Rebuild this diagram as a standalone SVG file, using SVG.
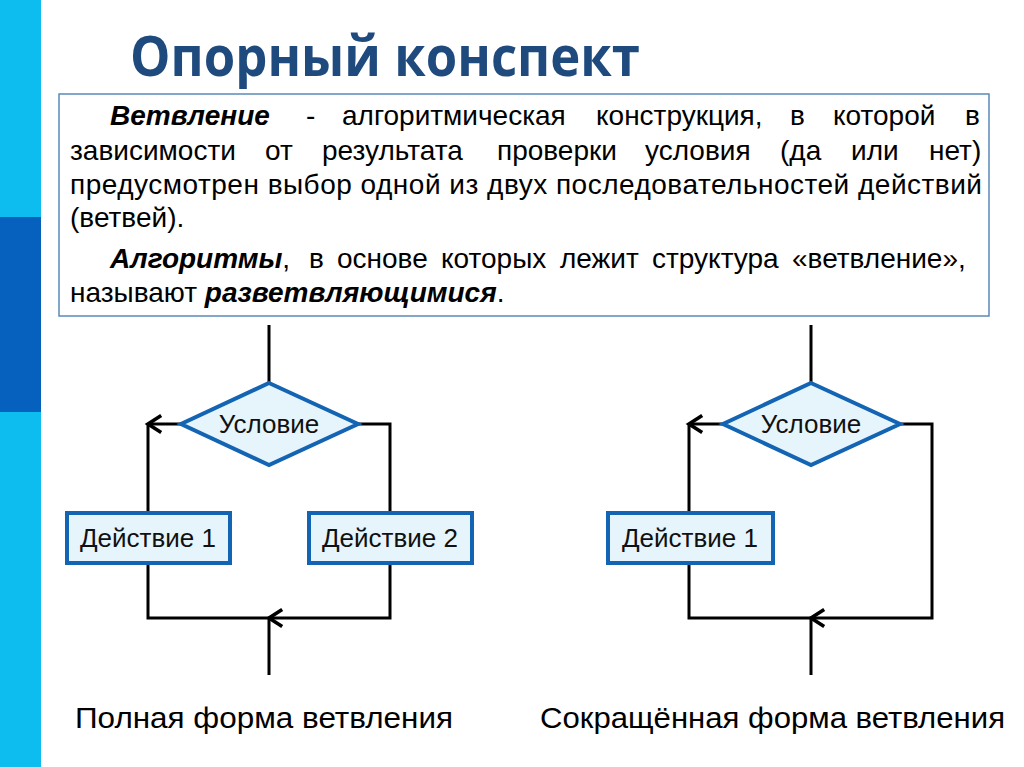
<svg xmlns="http://www.w3.org/2000/svg" width="1024" height="767" viewBox="0 0 1024 767">
<style>
.title{font-family:"Open Sans","Noto Sans","Liberation Sans",sans-serif;font-weight:bold;font-size:55px;fill:#1F4A7E}
.body{font-family:"Liberation Sans",Arial,sans-serif;font-size:28px;fill:#000}
.bi{font-weight:bold;font-style:italic}
.lbl{font-family:"Liberation Sans",Arial,sans-serif;font-size:26px;fill:#111;text-anchor:middle}
.cap{font-family:"Liberation Sans",Arial,sans-serif;font-size:30px;fill:#000}
.node{fill:#E6F5FC;stroke:#1464B4;stroke-width:4}
.conn{fill:none;stroke:#000;stroke-width:3}
</style>
<defs>
<marker id="arr" markerUnits="userSpaceOnUse" markerWidth="24" markerHeight="24" refX="0" refY="0" viewBox="-14 -10 18 20" orient="auto">
<path d="M-11,-7 L0,0 L-11,7" fill="none" stroke="#000" stroke-width="3"/>
</marker>
</defs>
<rect width="1024" height="767" fill="#FFFFFF"/>
<rect x="0" y="0" width="41" height="767" fill="#0DBDF0"/>
<rect x="0" y="217" width="41" height="195" fill="#0560BE"/>
<text class="title" x="130" y="76" textLength="510" lengthAdjust="spacingAndGlyphs">Опорный конспект</text>
<g id="definition">
<rect x="59" y="94" width="930" height="222" fill="#FFFFFF" stroke="#5A8AB8" stroke-width="1.5"/>
<text class="body" y="125"><tspan x="110" class="bi">Ветвление</tspan><tspan x="306">-</tspan><tspan x="342">алгоритмическая</tspan><tspan x="596">конструкция,</tspan><tspan x="790">в</tspan><tspan x="833">которой</tspan><tspan x="965">в</tspan></text>
<text class="body" y="160"><tspan x="70">зависимости</tspan><tspan x="265">от</tspan><tspan x="322">результата</tspan><tspan x="497">проверки</tspan><tspan x="645">условия</tspan><tspan x="780">(да</tspan><tspan x="851">или</tspan><tspan x="929">нет)</tspan></text>
<text class="body" x="70" y="194" textLength="912" lengthAdjust="spacing">предусмотрен выбор одной из двух последовательностей действий</text>
<text class="body" x="70" y="227">(ветвей).</text>
<text class="body" y="268"><tspan x="110" class="bi">Алгоритмы</tspan><tspan>,</tspan><tspan x="309">в</tspan><tspan x="337">основе</tspan><tspan x="441">которых</tspan><tspan x="560">лежит</tspan><tspan x="652">структура</tspan><tspan x="792">«ветвление»,</tspan></text>
<text class="body" x="70" y="302">называют <tspan class="bi">разветвляющимися</tspan>.</text>
</g>
<g id="connectors">
<path class="conn" d="M269,325 V383"/>
<path class="conn" d="M182,424 H148" marker-end="url(#arr)"/>
<path class="conn" d="M148,424 V513"/>
<path class="conn" d="M358,424 H390 V513"/>
<path class="conn" d="M148,563 V618 H269"/>
<path class="conn" d="M390,563 V618 H269" marker-end="url(#arr)"/>
<path class="conn" d="M269,618 V675"/>
<path class="conn" d="M811,325 V383"/>
<path class="conn" d="M723,424 H689" marker-end="url(#arr)"/>
<path class="conn" d="M689,424 V513"/>
<path class="conn" d="M900,424 H932 V618 H811" marker-end="url(#arr)"/>
<path class="conn" d="M689,563 V618 H811"/>
<path class="conn" d="M811,618 V675"/>
</g>
<g id="cond1">
<polygon class="node" points="269,383 358,424 269,465 181,424"/>
<text class="lbl" x="269" y="433">Условие</text>
</g>
<g id="act1">
<rect class="node" x="67" y="513" width="163" height="50"/>
<text class="lbl" x="148" y="547">Действие 1</text>
</g>
<g id="act2">
<rect class="node" x="309" y="513" width="163" height="50"/>
<text class="lbl" x="390" y="547">Действие 2</text>
</g>
<g id="cond2">
<polygon class="node" points="811,383 900,424 811,465 723,424"/>
<text class="lbl" x="811" y="433">Условие</text>
</g>
<g id="act3">
<rect class="node" x="608" y="513" width="165" height="50"/>
<text class="lbl" x="690" y="547">Действие 1</text>
</g>
<text class="cap" x="75" y="728" textLength="378" lengthAdjust="spacingAndGlyphs">Полная форма ветвления</text>
<text class="cap" x="540" y="728" textLength="465" lengthAdjust="spacingAndGlyphs">Сокращённая форма ветвления</text>
</svg>
